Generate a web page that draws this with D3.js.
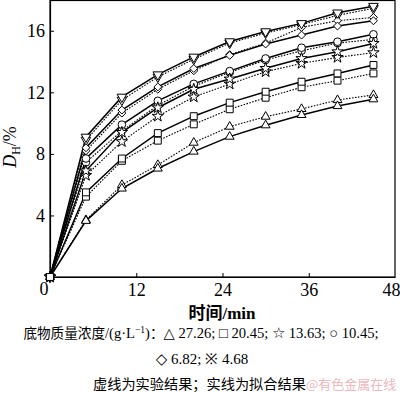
<!DOCTYPE html>
<html><head><meta charset="utf-8">
<script src="https://cdn.jsdelivr.net/npm/d3@7/dist/d3.min.js"></script>
<style>
html,body{margin:0;padding:0;background:#fff;}
svg{display:block;}
</style></head>
<body>
<svg id="c" width="400" height="393"></svg>
<script>
// ---- data ----
const times = [0, 5, 10, 15, 20, 25, 30, 35, 40, 45];
const concLabels = ["27.26", "20.45", "13.63", "10.45", "6.82", "4.68"];
const markers = ["triangle", "square", "star", "circle", "diamond", "triangleDown"];
// fitted (solid) results
const fit2726 = [0, 3.65, 5.75, 7.05, 8.15, 9.12, 9.86, 10.53, 11.11, 11.55];
const fit2045 = [0, 5.5, 7.7, 9.35, 10.45, 11.33, 12.04, 12.69, 13.23, 13.78];
const fit1363 = [0, 6.9, 9.4, 11.0, 12.2, 12.87, 13.56, 14.2, 14.64, 15.18];
const fit1045 = [0, 7.7, 9.9, 11.45, 12.55, 13.38, 14.2, 14.9, 15.29, 15.77];
const fit682  = [0, 8.4, 10.85, 12.35, 13.55, 14.4, 15.14, 15.72, 16.31, 16.65];
const fit468  = [0, 9.1, 11.7, 13.15, 14.3, 15.3, 15.95, 16.48, 17.17, 17.6];
// experimental (dotted) results
const exp2726 = [0, 3.7, 5.98, 7.28, 8.73, 9.77, 10.42, 10.92, 11.5, 11.83];
const exp2045 = [0, 5.22, 7.55, 8.86, 9.92, 10.9, 11.65, 12.33, 12.76, 13.23];
const exp1363 = [0, 6.6, 8.8, 10.45, 11.7, 12.54, 13.34, 13.88, 14.27, 14.58];
const exp1045 = [0, 7.45, 9.5, 11.15, 12.4, 13.3, 14.1, 14.7, 15.2, 15.44];
const exp682  = [0, 8.2, 10.65, 12.2, 13.4, 14.45, 15.2, 16.22, 16.65, 16.87];
const exp468  = [0, 8.9, 11.5, 13.0, 14.15, 15.2, 15.85, 16.4, 17.0, 17.46];
const xTicks = [12, 24, 36, 48];
const yTicks = [4, 8, 12, 16];

const fits = [fit2726, fit2045, fit1363, fit1045, fit682, fit468];
const exps = [exp2726, exp2045, exp1363, exp1045, exp682, exp468];

// ---- drawing ----
const svg = d3.select("#c");
const L = 50, R = 395, T = 0, B = 277;
const x = d3.scaleLinear().domain([0, 48]).range([L, R]);
const y = d3.scaleLinear().domain([0, 18]).range([B, T]);
const serif = "'Liberation Serif','DejaVu Serif',serif";

// frame
svg.append("rect").attr("x", L).attr("y", T + 0.5).attr("width", R - L).attr("height", B - T - 0.5)
  .attr("fill", "none").attr("stroke", "#000").attr("stroke-width", 1.2);

const xAxis = svg.append("g").attr("transform", `translate(0,${B})`)
  .call(d3.axisBottom(x).tickValues(xTicks).tickSizeInner(-4).tickSizeOuter(0).tickPadding(6));
const yAxis = svg.append("g").attr("transform", `translate(${L},0)`)
  .call(d3.axisLeft(y).tickValues(yTicks).tickSizeInner(-4).tickSizeOuter(0).tickPadding(5));
[xAxis, yAxis].forEach(g => {
  g.select(".domain").attr("stroke", "#000").attr("stroke-width", 1.2);
  g.selectAll(".tick line").attr("stroke", "#000").attr("stroke-width", 1);
  g.selectAll("text").attr("font-family", serif).attr("font-size", 18).attr("fill", "#000");
});
xAxis.selectAll(".tick").filter(d => d === 48).select("line").remove();
xAxis.selectAll(".tick").filter(d => d === 48).select("text").attr("text-anchor", "end").attr("x", 5);
svg.append("text").attr("x", 44).attr("y", 295).attr("text-anchor", "middle")
  .attr("font-family", serif).attr("font-size", 18).text("0");

// lines
const line = d3.line().x((d, i) => x(times[i])).y(d => y(d));
const linesG = svg.append("g");
exps.forEach(s => {
  linesG.append("path").datum(s).attr("d", line).attr("fill", "none")
    .attr("stroke", "#000").attr("stroke-width", 1.1).attr("stroke-dasharray", "1.6,1.4");
});
fits.forEach(s => {
  linesG.append("path").datum(s).attr("d", line).attr("fill", "none")
    .attr("stroke", "#000").attr("stroke-width", 1.5);
});

// markers
const symGen = {
  triangle: d3.symbol().type(d3.symbolTriangle).size(34)(),
  triangleDown: d3.symbol().type(d3.symbolTriangle).size(40)(),
  square: d3.symbol().type(d3.symbolSquare).size(48)(),
  star: d3.symbol().type(d3.symbolStar).size(40)(),
  circle: d3.symbol().type(d3.symbolCircle).size(46)(),
  diamond: d3.symbol().type(d3.symbolDiamond2).size(40)()
};
const markG = svg.append("g");
const drawOrder = [5, 4, 3, 2, 0, 1]; // square series drawn last so it sits on top at the origin
[exps, fits].forEach(group => {
  drawOrder.forEach(k => {
    const s = group[k];
    const m = markers[k];
    s.forEach((v, i) => {
      markG.append("path").attr("d", symGen[m])
        .attr("transform", `translate(${x(times[i])},${y(v)})` + (m === "triangleDown" ? " rotate(180)" : ""))
        .attr("fill", "#fff").attr("stroke", "#000").attr("stroke-width", 1);
    });
  });
});

// axis titles
const yt = svg.append("text").attr("transform", "translate(16,147) rotate(-90)")
  .attr("text-anchor", "middle").attr("font-family", serif).attr("font-size", 18);
yt.append("tspan").attr("font-style", "italic").text("D");
yt.append("tspan").attr("font-size", 12).attr("dy", 4).text("H");
yt.append("tspan").attr("dy", -4).text("/%");

const xt = svg.append("text").attr("x", 222).attr("y", 319).attr("text-anchor", "middle")
  .attr("font-size", 17).attr("font-weight", "bold");
xt.append("tspan").attr("font-family", "'Noto Sans CJK SC',sans-serif").text("时间");
xt.append("tspan").attr("font-family", serif).text("/min");

// legend text
const cjk = "'Noto Sans CJK SC',sans-serif";
const l1 = svg.append("text").attr("x", 201).attr("y", 338).attr("text-anchor", "middle")
  .attr("font-size", 14.6).attr("font-family", serif);
l1.append("tspan").attr("font-family", cjk).attr("font-size", 13.6).text("底物质量浓度");
l1.append("tspan").text("/(g·L");
l1.append("tspan").attr("font-size", 9.5).attr("dy", -5).text("−1");
l1.append("tspan").attr("dy", 5).text(")");
l1.append("tspan").attr("font-family", cjk).attr("font-size", 13.6).text("：");
l1.append("tspan").text(`△ ${concLabels[0]}; □ ${concLabels[1]}; ☆ ${concLabels[2]}; ○ ${concLabels[3]};`);

svg.append("text").attr("x", 202).attr("y", 364).attr("text-anchor", "middle")
  .attr("font-size", 15).attr("font-family", serif)
  .text(`◇ ${concLabels[4]}; ※ ${concLabels[5]}`);

svg.append("text").attr("x", 93).attr("y", 389)
  .attr("font-size", 14.2).attr("font-family", cjk)
  .text("虚线为实验结果；实线为拟合结果");
svg.append("text").attr("x", 306).attr("y", 389)
  .attr("font-size", 13).attr("font-family", cjk).attr("fill", "#eab8bd")
  .text("@有色金属在线");
</script>
</body></html>
